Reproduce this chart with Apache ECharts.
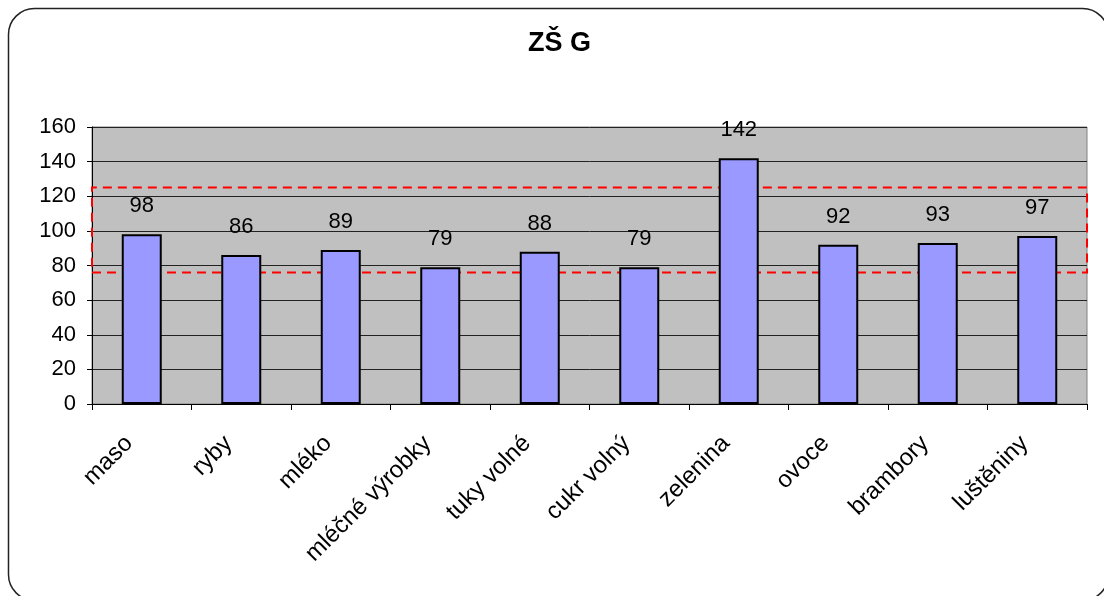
<!DOCTYPE html>
<html>
<head>
<meta charset="utf-8">
<style>
  html, body { margin: 0; padding: 0; background: #fff; }
  #chart { width: 1104px; height: 596px; }
</style>
<script src="https://cdn.jsdelivr.net/npm/echarts@6/dist/echarts.min.js"></script>
</head>
<body>
<div id="chart"></div>
<script>
// Food groups and their consumption index
const categories = ['maso', 'ryby', 'mléko', 'mléčné výrobky', 'tuky volné', 'cukr volný', 'zelenina', 'ovoce', 'brambory', 'luštěniny'];
const values = [98, 86, 89, 79, 88, 79, 142, 92, 93, 97];
// Recommended band (lower / upper bound)
const bandLow = 76;
const bandHigh = 125;
// Value axis ticks
const yMin = 0, yMax = 160, yStep = 20;

const FONT = '"Liberation Sans", Arial, sans-serif';
const chart = echarts.init(document.getElementById('chart'), null, { renderer: 'canvas' });

chart.setOption({
  animation: false,
  backgroundColor: '#ffffff',
  title: {
    text: 'ZŠ G',
    left: 523,
    top: 25,
    textStyle: { fontFamily: FONT, fontSize: 27, fontWeight: 'bold', color: '#000' }
  },
  graphic: [{
    type: 'rect',
    z: 100,
    silent: true,
    shape: { x: 8.5, y: 8.5, width: 1100, height: 592, r: 26 },
    style: { fill: 'none', stroke: '#222', lineWidth: 1.5 }
  }],
  grid: {
    left: 92, right: 17, top: 127, bottom: 192,
    show: true,
    backgroundColor: '#C0C0C0',
    borderColor: '#808080',
    borderWidth: 1
  },
  xAxis: {
    type: 'category',
    data: categories,
    axisLine: { lineStyle: { color: '#000', width: 1 } },
    axisTick: { show: true, length: 6, lineStyle: { color: '#000' } },
    axisLabel: {
      rotate: 45,
      interval: 0,
      margin: 23,
      padding: [0, 18, 0, 0],
      fontFamily: FONT,
      fontSize: 24,
      color: '#000'
    }
  },
  yAxis: {
    type: 'value',
    min: yMin, max: yMax, interval: yStep,
    axisLine: { show: true, lineStyle: { color: '#000', width: 1 } },
    axisTick: { show: true, length: 5, lineStyle: { color: '#000' } },
    axisLabel: { margin: 16, fontFamily: FONT, fontSize: 22, color: '#000' },
    splitLine: { lineStyle: { color: '#222', width: 1 } }
  },
  series: [{
    type: 'bar',
    data: values,
    barWidth: 40,
    itemStyle: { color: '#9999FF', borderColor: '#000', borderWidth: 2 },
    label: {
      show: true,
      position: 'top',
      distance: 17,
      fontFamily: FONT,
      fontSize: 22,
      color: '#000'
    },
    markArea: {
      silent: true,
      itemStyle: {
        color: 'rgba(0,0,0,0)',
        borderColor: '#FF0000',
        borderWidth: 2,
        borderType: [9, 6]
      },
      data: [[{ yAxis: bandHigh }, { yAxis: bandLow }]]
    }
  }]
});
</script>
</body>
</html>
